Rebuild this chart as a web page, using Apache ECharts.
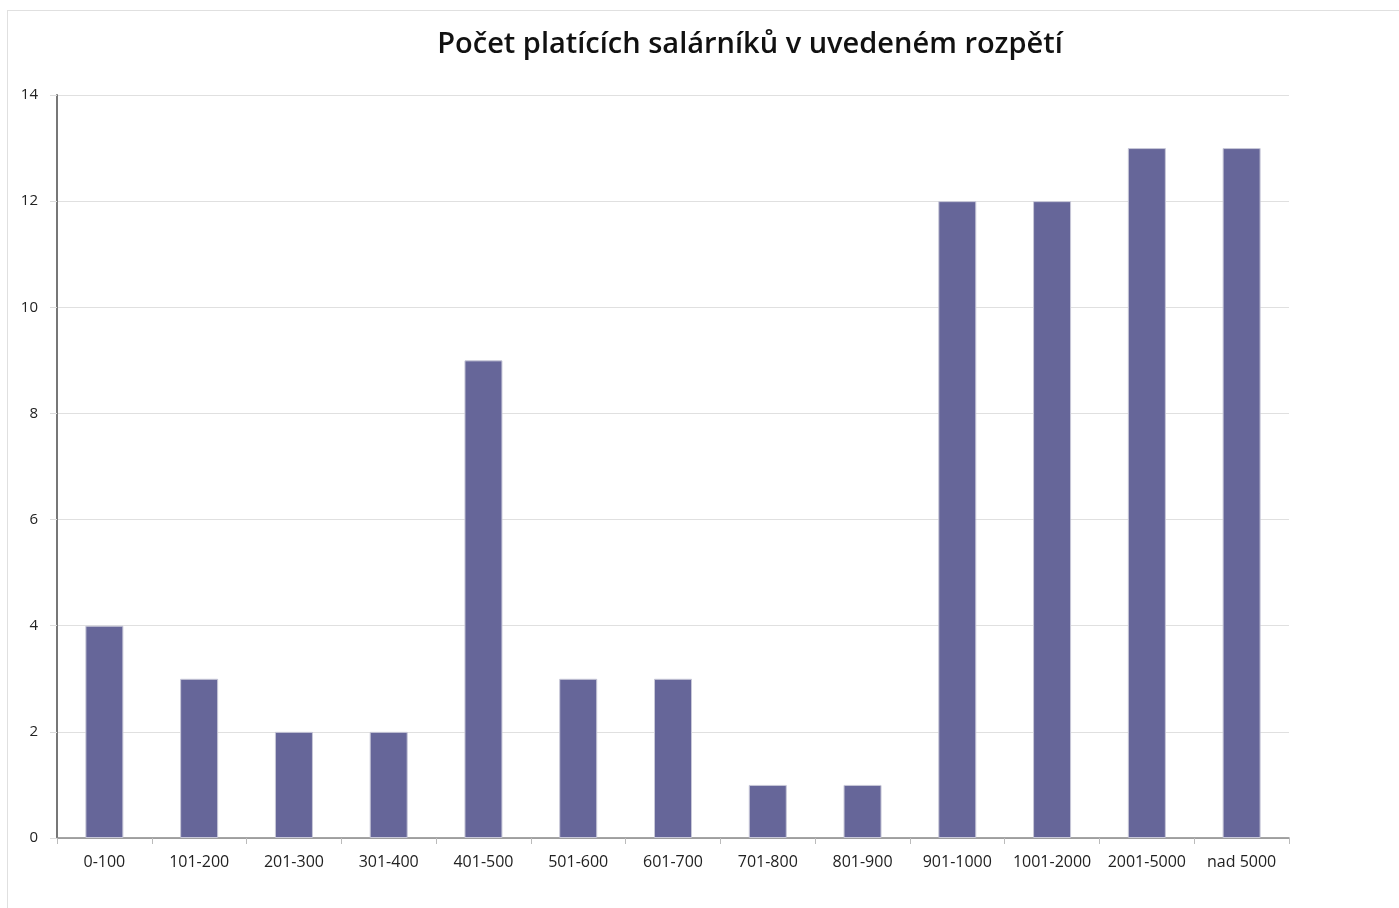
<!DOCTYPE html>
<html>
<head>
<meta charset="utf-8">
<script src="https://cdn.jsdelivr.net/npm/echarts@6/dist/echarts.min.js"></script>
<style>
  html, body { margin: 0; padding: 0; background: #fff; overflow: hidden; }
  #frame { position: absolute; left: 7px; top: 10px; width: 1400px; height: 910px; border: 1px solid #e0e0e0; box-sizing: border-box; }
  #main { position: absolute; left: 0; top: 0; width: 1399px; height: 908px; }
</style>
</head>
<body>
<div id="frame"></div>
<div id="main"></div>
<script>
const categories = ['0-100', '101-200', '201-300', '301-400', '401-500', '501-600', '601-700',
  '701-800', '801-900', '901-1000', '1001-2000', '2001-5000', 'nad 5000'];
const counts = [4, 3, 2, 2, 9, 3, 3, 1, 1, 12, 12, 13, 13];
const titleText = 'Počet platících salárníků v uvedeném rozpětí';

const chart = echarts.init(document.getElementById('main'));
chart.setOption({
  animation: false,
  title: {
    text: titleText,
    left: 745,
    top: 25,
    textAlign: 'center',
    textStyle: { fontFamily: 'Open Sans', fontWeight: 600, fontSize: 29, color: '#111' }
  },
  grid: { left: 57, right: 110, top: 95, bottom: 70 },
  xAxis: {
    type: 'category',
    data: categories,
    axisLine: { lineStyle: { color: '#888', width: 1.5 } },
    axisTick: { show: true, length: 6, lineStyle: { color: '#bbb' } },
    axisLabel: { color: '#222', fontSize: 16, fontFamily: 'Open Sans', margin: 16, interval: 0 }
  },
  yAxis: {
    type: 'value',
    min: 0,
    max: 14,
    interval: 2,
    axisLine: { show: true, lineStyle: { color: '#777', width: 2 } },
    axisTick: { show: true, length: 7, lineStyle: { color: '#ddd' } },
    splitLine: { lineStyle: { color: '#e0e0e0' } },
    axisLabel: { color: '#222', fontSize: 15, fontFamily: 'Open Sans', margin: 19 }
  },
  series: [{
    type: 'bar',
    data: counts,
    barWidth: 38,
    itemStyle: { color: '#666699', borderColor: '#c8c8d8', borderWidth: 1 }
  }]
});
</script>
</body>
</html>
